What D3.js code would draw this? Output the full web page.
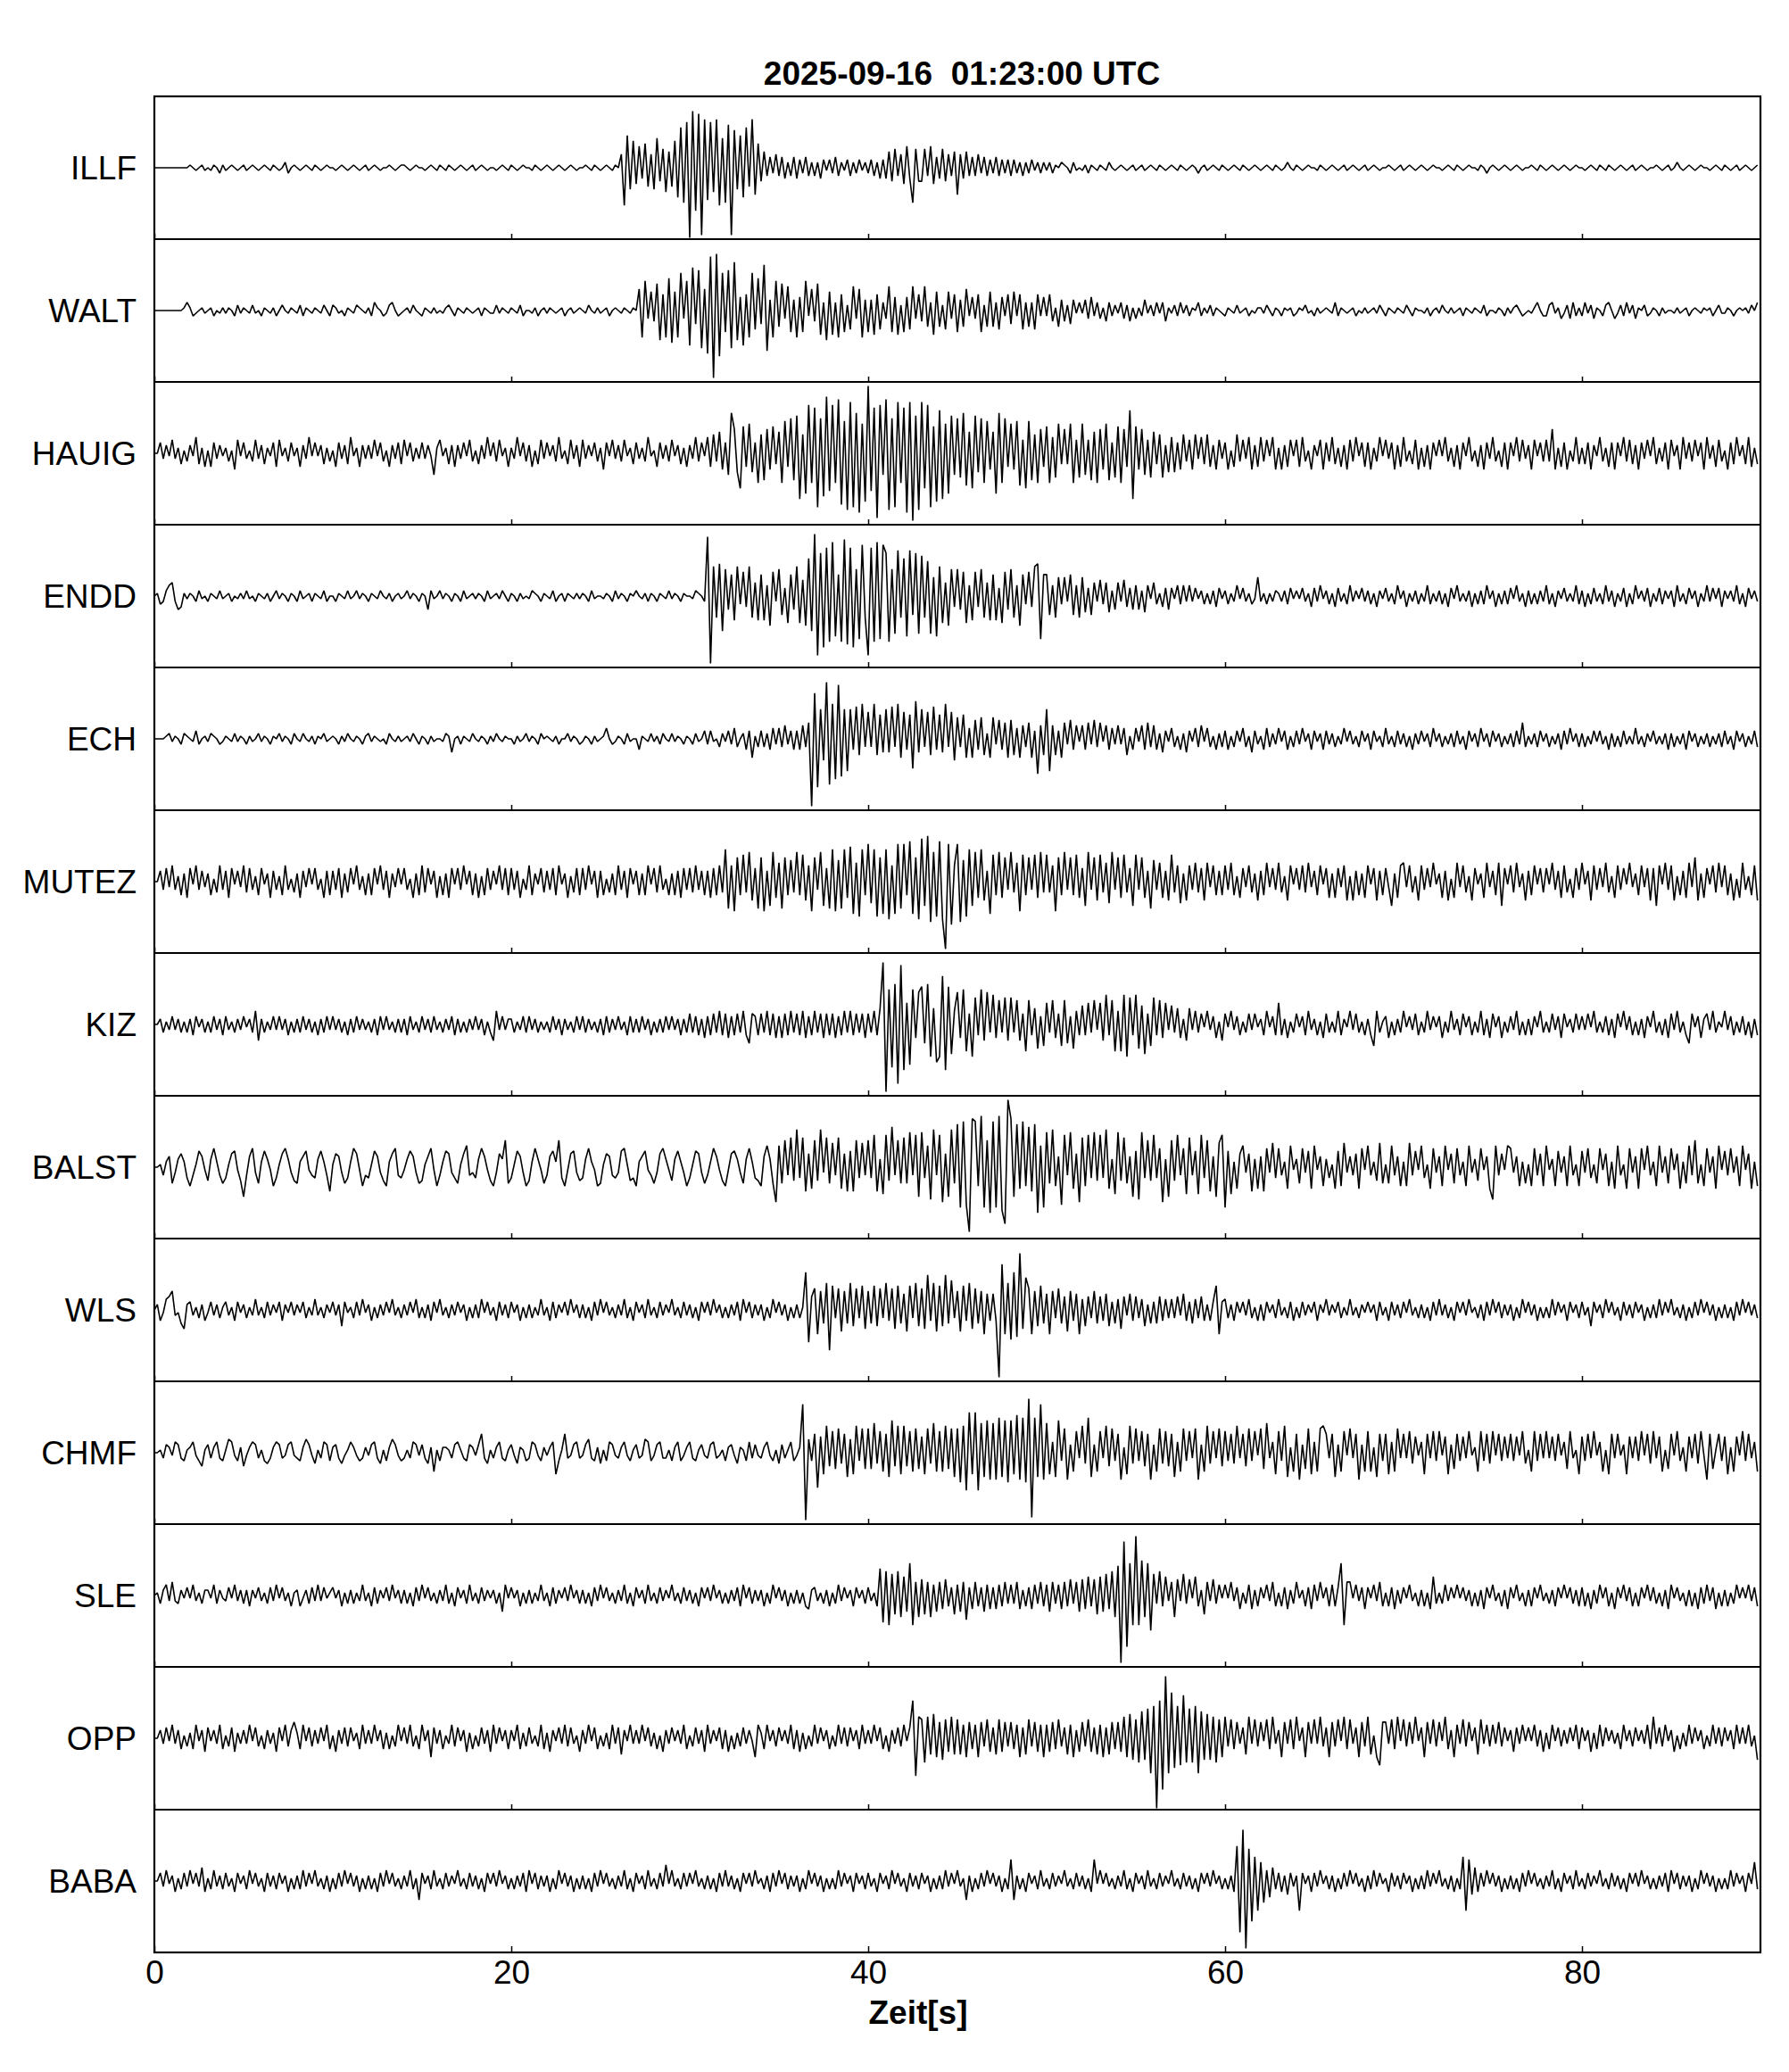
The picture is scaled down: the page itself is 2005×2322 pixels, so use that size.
<!DOCTYPE html>
<html>
<head>
<meta charset="utf-8">
<script src="https://cdn.jsdelivr.net/npm/d3@7"></script>
<style>
body { margin: 0; background: #fff; }
svg { display: block; }
text { font-family: "Liberation Sans", Arial, Helvetica, sans-serif; fill: #000; }
</style>
</head>
<body>
<div id="chart"></div>
<script>
// chart texts
var title = "2025-09-16  01:23:00 UTC";
var xLabel = "Zeit[s]";
var stations = ["ILLF", "WALT", "HAUIG", "ENDD", "ECH", "MUTEZ", "KIZ", "BALST", "WLS", "CHMF", "SLE", "OPP", "BABA"];
var tickLabels = [0, 20, 40, 60, 80];
var timeRange = [0, 90];

// traces: one group per second, one letter per sample
// A..Z = +1..+26, a..z = -1..-26, 0 = zero (26 ~ full half-panel)
var ILLF = [
	"000000 000000 A0a0Aa 0aA0bA a0A0a0 Aa0A0a 0A0aA0 a0Bb0A 0a0A0a A0a0A0",
	"0a0A0a 0A0a0A a0A0a0 0A0a0A A0a0A0 0a0A0a A0aA0a 0A0a0A a0A0a0 0a0A0a",
	"A0a0A0 0aA0a0 A0a0A0 a0A0a0 0A0aA0 a0A0aA 0EnLhJ fHdIgE hKeGiF gJkOmQ",
	"zUpTyR lQiRnK mPyNhL kOgRjI eFcDbE cDdBcD dCbDcB cBdCaC bDcBaC cBbCaB",
	"bCcBdC dFeGcE fHdmGe eGcHfD dGeEcF jEdFcD cEbDcC bDcCbC cCbBcB bCaBbB",
	"aBbA0B A0bBa0 aAbA0a A0aB0a 0A0a0A a0Aa0A 0aA0a0 A0aA0a 0A0b0A a0A0aA",
	"0a0A0a A0a0A0 a0A0aA 0a0B0a A0a0A0 0aA0a0 A0a0Aa 0A0a0A a0A0a0 0A0a0A",
	"a0A0a0 A0a0A0 0a0A0a A0a0A0 0aA0b0 A0a0A0 a0A0a0 0A0aA0 a0A0a0 A0a0A0",
	"0a0A0a A0aA0a 0A0a0A a0A0a0 0A0a0A a0B0a0 A0a0A0 0a0A0a A0a0Aa 0A0a0A"
];
var WALT = [
	"000000 0000AC Aba0Aa 0Ab0aA aA0bBa A0aBa0 bA0aAb 0B0aA0 aBbA0a A0aB0b",
	"BAa0bA 0aBA0a AbCA0b aBC0ba 0AaB0a bA0aAa 0aAB0b A0aA0a 0AbA0a aBaA0a",
	"A0aBb0 0aAb0A aA0a0A b0Aa0A 0aB0aA a0Ab0A 0aA0aA 0HjKcG dJkFjL lGjNcK",
	"mPeOnH pTyUqN hOnRkE mFjNgL eQoDjK fJcIhD jEhKbH dJiCkG iCjFhB gIcHjD",
	"hDiFgC cIhEiB hEgIcF dIfCiG fBgGcF hDfHbE cFhBfG fCgEbF eGbFgC fCgFbE",
	"bFdAfD dBeDaC aDcEbC cAdCbB aCcBdA cAbDaB bCaCdA aBbCaB bA0CbA aBbA0a",
	"bA0aBa 0Ab0aA AaB0bA 0bA0Ab aA0Ba0 bAa0A0 aCbA0a 0Ab0aA a0AaB0 bA0aA0",
	"aB0bA0 0aAb0A aB0aAa 0AbA0a A0aBb0 0aA0bA aAB0ba 0aAC0b bBCaAc aBcCbA",
	"bCaBcA 0bBC0c aBbCaB cA0Bba A0bAa0 0aAa0A b0A0aA 0Ab0Ba aA0b0A 0AaB0C"
];
var HAUIG = [
	"00DbCa EbBdAc CaFdBe AeDbCa BcAfEa DbAcEb CdBaDe EaBcDa BeCbFa DaCdBc",
	"AeDbCd FaBeCb CbEaDc AeCbDd EaDcBb DbCahB EaBdCe CbDaEc AdCbFa DcEaBe",
	"BbFaDc CeAdEb DaCcFb AdEbCe EbCaDc BfDaEb CcEaBd DbBcFa AeDbCc EaCdBe",
	"CbFcDa FeGcHf DhOIgm JeKgDk GjIfJd HkLeMj NqGoRk QtMpUn RkTsLu StOvKr",
	"YnQxRh TuMtSk QvSyNu SmRtJr PqKoNh MiOlHm NgMkLf HoOkMe KfLlEm LjGkIe",
	"JkFiKd IdKkEi KhEjHk IfKjDi JkIePq JfIhEi HdGiCg FgDfGc EfGbFd GeCfEb",
	"DfAeGc EbFfCe FcEaFf BfCeEa EeFcAf CaEfDc FdBeCf EcFaDe DfBcFa EbDfCe",
	"FcAdEf BeCfDa EaFcBe CfDaFc AeCfDb FcAeDf DaFcEb CfEaDc EcIfBe DfAcFd",
	"BdDfCa FcBeDf DaFcEd CfDbEa FdBcDf EaCfFb DcEaDf FbCeEc AfDdFa CdFeBd"
];
var ENDD = [
	"0AcbBD EbedAa A0bBa0 bA0aBa 0Ab0aA aBa0bA 0aAb0B aA0bA0 bBa0Ab A0aBb0",
	"0bA0aB a0BaA0 bA0aB0 aAb0Aa 0BaA0b A0eBa0 BaA0bA 0bBa0A aA0bBa 0AaB0b",
	"A0bAa0 aBA0bA 0aBb0A bA0aAa A0bBa0 0aA0bB aA0bA0 B0aAbA 0bA0aB aA0bA0",
	"0aBA0b VyKhLm JeHiKc IdKhEi HiDkIb JgCjHe KjFkNm WvPsRq ToHqUr RsJpSh",
	"vRqTpS PqJnQh NoQgPn OhMnGo KjEkJd JeIjDi IdJhEi HiCjIe JhDkHc IdKLpH",
	"HgDhGc GbHgDh GfCgEb FcEfBe EbFdCe DeBfDa EcAdCe CaDcDb DbCaBc AcBdCa",
	"BcAbDa CbAcaG bAcAbB AbBcCa BaCbAd CbDaBc AdCbAc DbBaCb BcAdBa CbAcDa",
	"BdAbBc AbDcAb BcAdCa DbAbBd AcBcDa BdAcBc CaDbAd BcAcBb DcAdBa CbAbDc",
	"BdAcCb AcDbBd AbCdAc DaBbCd AbCcBa BdDbAc CaBdAb DbCaCd BaBbDc AdCaBb"
];
var ECH = [
	"0000AB aA0bBA 0aCb0A aBA0ba A0aBaA 0bAa0B aA0bA0 BaA0bB 0aB0aA bA0Ba0",
	"A0bAaB 0aA0bA BaA0a0 bB0aAa 0AaB0b A0bAa0 0aBAe0 AbA0aB 0aA0bA aB0aA0",
	"0bAa0B aA0bB0 A0aAb0 0BaA0b aA0bAa 0AD0ba A0bBa0 0dA0aB aAbB0a BaA0bA",
	"0bBa0C bCa0cB aCbDc0 BdCgAc CcBdDb DcEbCd CdEcFy QrKhUq MoTnKl KdLfMc",
	"JcMfIe KeLcMg JdIkNe KcJfLd IeMcJh HcIgDg GdHfBg HbGdFg GfDgEc FgCmEf",
	"KlEfCg FbGdEa EdFbGc FaEdDb EbDfAd DaEdFc EdBeCa DcAdBe CaDcEa DcAdBc",
	"CdAcCa DcAeCb AdDcBb DaCdAc CbDaBd CaBdCb BcAbDa CbAcCa BdCaAc DbAcCb",
	"BcAdBb CaBcDa BcAbBc CbAdCa BcDaBc CaBcAb BcCbFc AbBcCa BcAbBd CbDaBc",
	"BcAbCa CbAdBc AcCbAb DbAcBa CbAbBd BcAbBd CaBcAb BcAbBc CbAdCa BcAbCc"
];
var MUTEZ = [
	"00DcEb FcBeCf EaFcDb CeAdFc DfEaDb FdEcBe EaCfDc BeFcAd CfDbEa EcAfDe",
	"DcEfCd EaFcBe CeEaFc DfCbEa EcAfCe FdEaDf BeCfEa EcFaDe CfBeEc DaFcEe",
	"EcDfAc FeCaEd DcEeFa CfBdEe EcFaDf DeAdCe FcDfEa DeCeFa EdFcAe CeDfEc",
	"EdFcDe DfEeFd LjFkIe JdKgEj IkDiKf GjIeHd KeJgFk IcKiEj LkHjLf MlGmLe",
	"NhLmIl LnFlNj NeOlIn PiQoKm OnyNpF NoHmLi KfLgDl JeKfIc KdGkJe IcJfKd",
	"JdFkIe KcIeJf EiKcIg JdGhKc IfJdEi JcIfDj HcGfDg JdFhCg FcGdEg GbFeDe",
	"FcGeBf EbFdCg DeGbEc GdBgFa EcFdGb DeFaEf CfEbFg BgDeCf FaEgDe EbiCfF",
	"GbFdBg FcEbGa CfDgAf GbFdBg EaCfGb DeGiEa FdGbCg DeFaEd EaGcDf FdAfEc",
	"GaDgFc EbGdBf FcEaGb CeFbEg EiFaGc FgBeDf GbIgCf EaFdGb FeCgAf GcBeFg"
];
var KIZ = [
	"00BcAb CbBcAc BdCaBc AcCbBd CbAcBb CaBcEf BcAbCb CbBdAc BcCbBc AdBcCb",
	"CbBcAd BcCbBb AcBdCb CbAcBc BdCbAc CbBcCb AcBbCd BcAcBb CbBdAc fEbCbB",
	"BcAbCc CbBcAb AcCbBd BbAcCb CcBbAc BdCcBb CbAdCc BcCbBd AcBcCb CbBdBc",
	"DcCdBe CdDcEd DeCdDc EdgDCd DcEdDe CeDdEc DdEeCd EcDeDd DeCdEc EdDcDe",
	"DcEdFW yMpOvV qHoMeL NgOlFn lRqNkE LeMjDl JdMfLc KeIcJf JcIfDj IdFiCh",
	"HcIeDh IgCiEd GdHcIb HfKdIj EjKlJd KiGkDh JdIeHb GcFeBf FbEcDa EbCeAf",
	"DaEbCd AcDbDa BdEaCd HdBeAc DaCdEb BdAeDc AcEdBa EbDcAd BdhEcA CeAdBc",
	"EaCbDd AcEbCa CeAcEb BdDaCd AcEdBe DaCeAc CbEdAd BdCaEc AcDbCe DaBcDb",
	"CbDaEc AcCdBe DaEbCd AdBeCa EcAdBe DbEcAd gDaCeB DbEcAa EbCdAc CdAeBd"
];
var BALST = [
	"00AcBD fbCEBd gcAFDa eCGBcf dAEFae kcDGbf BFCagd AEGCbe fBDFac dCFBci",
	"AEDbfd BGEagc dAFDbe gBEGcd aCFDbf eADGag cBFEbd fAEHcb dCGDae gbECJf",
	"dAFDbg eBGCaf cDFBJd gaEFbe dCGBag fAEDcd bFGAed gBDFac fbEGCa eCFBbg",
	"dAFEbf cBGDae gaEFCb fCGBde gDHCfm HfJcKe NdKiEh JeNbKf IcKhEi FiJdIc",
	"JdLiCj LeOcJf KfMcLk MdHlNc LmEkNf PoQnxR QgSoJq QoSpuY RkPhQg OiPqHo",
	"MfNgDn LcMhEm KgLdMe LdNhCj MeKfDk FlMdJe LdGmCk JeLcGj KcFjLd JiDkIL",
	"oFjBhE HbEiCh DiGbId GcBhHa CfGbFh HaDgCd AhFgIb DcEhGa HcBeIf AfHcDg",
	"BgIcFa HdAhGb DgHaEf GcBgHb CeGaDh lHcEaH GbDgBf AgGcEg HaCgFb DgHcAg",
	"FbGdAf GaEgBh HcAhGb DhGaHc BgHbDf GaEhBf HcJfAg GbDhHa FcGbDg HaEhBg"
];
var WLS = [
	"0BdaDE GbaegB CbAcBd aCbBcA CbAdCa BcAbDb AcCbBa CdBaCb BaCcAb DbAcBa",
	"CbBfCa AcCbDa BdAcBb CaDbAc BbCaDc AcBdCa DbAcBb CaBdAc BcDaCb AdCbBc",
	"CaBdAc BcAbDb AdCcBa CbDaBc BcAdCb DaCbAc BbDcAd CaBcDb AcCbBa DbAcCb",
	"BcAdCa CbDaBc AcBbCd DaCcBb BdAcDa CbBdAc BcANlE HiGeJo IcHhGe JfHcIg",
	"GeIfHc JdHgIe FhIcJf HgMdJh IfMeKc GhIdJg HeGiFd FdyQiJ kNjUgL HiGfIe",
	"FiGcHe EhGdFi DfEcGe EdFfCe DgEbFd EcDfBe CeEdDc DcEbFd CeDcEd BdCIiC",
	"DcBdCa CbDcAd BdCaBc DbAcCd AcCbBa CdBaDb BaCcAb DbAcBa CaBdCb AdCbBc",
	"CaDbAc BcAdCb DbBcAd CaCbDa AcBdCb DaCcBb BdAcDa CbBdAc AcDbCa BdCaBc",
	"CbAfCa BcDaCb AdCbBc CaBdAc BcDbCa DbAcBd AcCbDa CbBdAc BcAdCb DaCbBc"
];
var CHMF = [
	"00AbCB aDCbcA BDaceA CbBDbc AEDacB eaBDCb AcdbBD CbaCDa bcBECa dAbDCc",
	"BCbdaA DBacbB aCDbdA cBECac bAbDCa CbdBgA cBBAbC DAbcCB aCGbdA bBDbcA",
	"CadBAc bDCacB aBDhcA GbaCDb aCEbcB dAcDCa bBDacA CbaEDc aCDbbA cBDcaB",
	"DbcACa bCDbaA cBCadB AcDbCa bBDacA dCbADc aBRyEc GmFhJe HfIdGi EhJcIf",
	"IfKdHg GiLeJh JeHgIf FhIdKg HgJfIi IkJnOh OnKiLj KjMiLk LhNjMk TxMiRj",
	"KhDiLc IjCgHb JdMiCg HbJeIc GjBhJd IcHeGj CgIdHe GiDgIc HbIjCg JdHbIe",
	"HcGdJb GeIcHa IfKbDh HcJiBg GjCfIh DgIJGb GiCgHa IbGjCg HgBiGc GhDgIb",
	"GbHdFa DhGbHc HaFhCf GcFbHa BgHcGd HaGcFb GcFaHd AgHcGb HbFcGa DfHbAh",
	"FcGbHa DgAhGb GaChFb FcHaGd HbFgAf GaHcBg FbGdHa jGfAGc FhBgFa HcGbDg"
];
var SLE = [
	"0AcBDb EbcBaC aDbAcB BaDcBa bCaDbB cBdBaC bAcCbD aCbAdA BdaBcC bDbCaA",
	"CaBdAc BcAbDb AdCcBa CbDaBc BcAdCb DaCbAc BbDcAd CaBcDb AcCbBa BcAfDa",
	"CaBdAc BcAbDb AdCcBa CbDaBc BcAdCb DaCbAc BbDcAd CaBcDb AcCbBa DbAcCb",
	"BcAdCa CbDaBc AcBbCd DaCcBb BdAcDa CbBdAc BcAdeB CbAcBd AcDbCa BdCaBc",
	"CbAdJj IkHgIh GfLkEh FgEhDf EeFdCg DfEiCe EdCfDe CeDdEc DcEeBd CeDcEd",
	"DfEcDe EdFcEf FeGdFg GfHeIh KyTsLk VkMhLm HcIdGb EhFbHc FaGdBg EbFcDa",
	"DaEbCe AcDeBd CaDbEd AdCeBc EaBdCe DbEaCd DdCLkE EaDbCe CaDbEd AdCeBc",
	"CaDbAd BdAeGc AcDbCa DaCbBd AdBeCa DbAdBe CaDbAd BdCaDb AcBdCa DaCcBd",
	"CdAeBc DaCdAe CaDbCd AdCaDb CcAdBe DaCbAd BdAeCc DbCeAd BdAcDa CaDbCd"
];
var OPP = [
	"00CbDa EbCdAc BdEaCe DaCbEd AcDeBb CbEaDc AdCbBe DaEcCF BdEaDc CbDaEd",
	"AeCbDc DaBdEb CbEaCd BdAcEa DbEcAd EaCgDb CdAbEc DaCeBd AcDbCe EbDaCd",
	"CaEdBc DbAcEd BeCaDb EcDbAe CbEaDd AcBdEb DfCaEb CbEaDc BdAeCb DaCbEd",
	"AcDbCe EbCaDd CeAdBc DbCagE BdEaCc DaCbEd CeBdAc EbDaCd AcEbDc DaCdEb",
	"CbEaDd AeCbDc EaDNnH GiHfIg FhGeHf GfEgFd EgFcGe DfGeFc FdEgDf GcFeEg",
	"EeFdGc DfEgCe FcGeDf EgDfFd FeHgIh GiJhKm LzNsWm QkLjPi KiLmJh IhHiGg",
	"HcGdFb DfHbGc FaGdHb CgFbGd HaDgFb GbHcDg FcGaHd GbDgFc HfAgjF FbGdHa",
	"GcFbHa DgFbGc FaHdCg EbGcFa DfGbEc EbFcDa CeDbEa DaEcCe BdEaDc CbDaEd",
	"DaCeBd EcDaCb BdEaCc DaCbEd HbDcEa CeAdBc EbDaCd AcEbDc DaCdEb DbEcAh"
];
var BABA = [
	"00CbDa BdAcCb DaCbEd AcDbBc CbAdCa BcDaCb AdCbBc CaBdAc BcDbCa DbAcBd",
	"AcCbDa CbBdAc BcAdCb DaCbAc BbDcAg CaBcDb AcCbBa DbAcCb BcAdCa CbDaBc",
	"AcBbCd DaCcBb BdAcDa CbBdAc BcAdCb DaCbAc BbDcAd CaBcDb AcCbFa DbAcCb",
	"CaDbAc BcAdCb DbBcAd CaCbDa AcBdCb DaCcBb BdAcDa CbBdAc AcDbCa BdCaBc",
	"CbAdCa BcDaCb AdCbBc CaBdAc BcDbCa DbAgBd AcCbDa CbBdAc HgBcAd CaBcDb",
	"AcCbBa DbAcCb BcAdHa DaCbAc BbDcAd CaBcDb AcCbBa DbAcCb BcAdCa CbDaBc",
	"AcBdMs SyLoIk GhDfEc CdBeCb BkCaBd CbDaBc BdAcCb DaCbAd BcDbCa AdCbBc",
	"CaBdAc BcDbCa DbAcBd AcIkHe EdCbDa CbBdAc BcAdCb DaCbAc BbDcAd CaBcDb",
	"AcCbBa DbAcCb BcAdCa CbDaBc AcBbCd DaCcBb BdAcDa CbBdAc AcDbCa BdCaGc"
];

var traces = [ILLF, WALT, HAUIG, ENDD, ECH, MUTEZ, KIZ, BALST, WLS, CHMF, SLE, OPP, BABA];

// layout
var width = 2005, height = 2322;
var plotLeft = 173, plotRight = 1973, plotTop = 108;
var panelH = 160;
var plotBottom = plotTop + panelH * stations.length;

// turn one trace's groups into {t, v} samples
function decode(rows) {
	var pts = [];
	rows.join(" ").trim().split(/\s+/).forEach(function(g, i) {
		for (var j = 0; j < g.length; j++) {
			var c = g[j], v = 0;
			if (c >= "A" && c <= "Z") v = c.charCodeAt(0) - 64;
			else if (c >= "a" && c <= "z") v = -(c.charCodeAt(0) - 96);
			pts.push({ t: i + j / g.length, v: v });
		}
	});
	return pts;
}

var svg = d3.select("#chart").append("svg")
	.attr("width", width)
	.attr("height", height);

svg.append("rect").attr("width", width).attr("height", height).attr("fill", "#fff");

var x = d3.scaleLinear().domain(timeRange).range([plotLeft, plotRight]);

// title
svg.append("text")
	.attr("x", (plotLeft + plotRight) / 2 + 5)
	.attr("y", 95)
	.attr("text-anchor", "middle")
	.style("font-size", "37px")
	.style("font-weight", "bold")
	.style("white-space", "pre")
	.text(title);

var defs = svg.append("defs");

stations.forEach(function(name, i) {
	var top = plotTop + i * panelH;
	var bottom = top + panelH;
	var y = d3.scaleLinear().domain([-26.5, 26.5]).range([bottom, top]);

	defs.append("clipPath").attr("id", "clip" + i)
		.append("rect")
		.attr("x", plotLeft).attr("y", top)
		.attr("width", plotRight - plotLeft).attr("height", panelH);

	var line = d3.line()
		.x(function(d) { return x(d.t); })
		.y(function(d) { return y(d.v); });

	svg.append("path")
		.datum(decode(traces[i]))
		.attr("clip-path", "url(#clip" + i + ")")
		.attr("fill", "none")
		.attr("stroke", "#000")
		.attr("stroke-width", 1.6)
		.attr("stroke-linejoin", "bevel")
		.attr("d", line);

	// station name
	svg.append("text")
		.attr("x", plotLeft - 20)
		.attr("y", y(0) + 13)
		.attr("text-anchor", "end")
		.style("font-size", "37px")
		.text(name);

	// small ticks at the bottom of every panel
	var last = (i === stations.length - 1);
	var axis = d3.axisBottom(x)
		.tickValues(tickLabels)
		.tickSizeInner(last ? -7 : -6)
		.tickSizeOuter(0)
		.tickPadding(9)
		.tickFormat(last ? d3.format("d") : "");
	var g = svg.append("g")
		.attr("transform", "translate(0," + bottom + ")")
		.call(axis);
	g.select(".domain").remove();
	g.selectAll(".tick line").attr("stroke", "#000").attr("stroke-width", 1.5);
	g.selectAll(".tick text")
		.style("font-size", "37px")
		.style("font-family", "'Liberation Sans', Arial, sans-serif")
		.attr("fill", "#000");

	// divider under the panel
	if (!last) {
		svg.append("line")
			.attr("x1", plotLeft).attr("x2", plotRight)
			.attr("y1", bottom).attr("y2", bottom)
			.attr("stroke", "#000")
			.attr("stroke-width", 2.2);
	}
});

// frame
svg.append("rect")
	.attr("x", plotLeft).attr("y", plotTop)
	.attr("width", plotRight - plotLeft)
	.attr("height", plotBottom - plotTop)
	.attr("fill", "none")
	.attr("stroke", "#000")
	.attr("stroke-width", 2.2);

// x axis title
svg.append("text")
	.attr("x", 1029)
	.attr("y", 2268)
	.attr("text-anchor", "middle")
	.style("font-size", "37px")
	.style("font-weight", "bold")
	.text(xLabel);
</script>
</body>
</html>
